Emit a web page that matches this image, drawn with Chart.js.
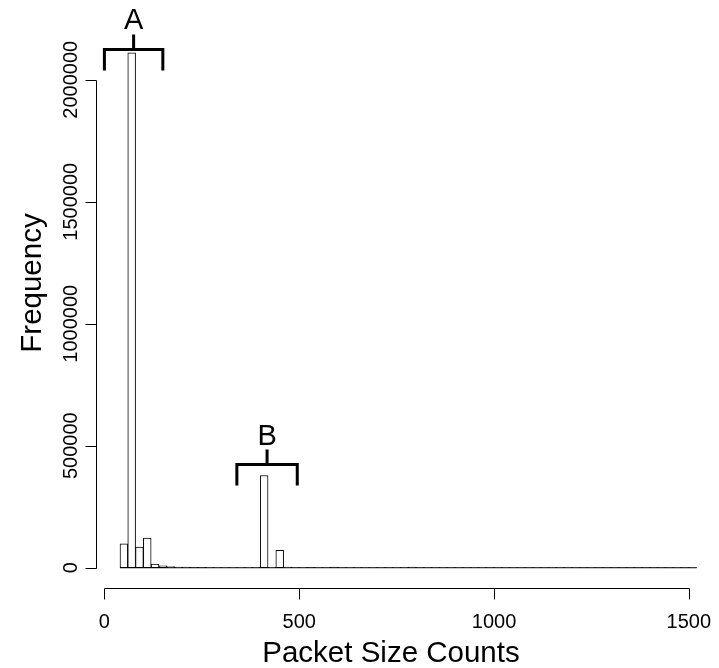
<!DOCTYPE html>
<html><head><meta charset="utf-8">
<script src="https://cdn.jsdelivr.net/npm/chart.js@4/dist/chart.umd.min.js"></script>
<style>html,body{margin:0;padding:0;background:#fff;}#wrap{width:719px;height:668px;}</style>
</head><body><div id="wrap"><canvas id="c" width="719" height="668"></canvas></div>
<script>
// ---- data ----
const binStarts = [40,60,80,100,120,140,160,180,200,220,240,260,280,300,320,340,360,380,400,
  420,440,460,480,500,520,540,560,580,600,620,640,660,680,700,720,740,760,780,800,820,840,860,880,900,
  920,940,960,980,1000,1020,1040,1060,1080,1100,1120,1140,1160,1180,1200,1220,1240,1260,1280,1300,
  1320,1340,1360,1380,1400,1420,1440,1460,1480,1500];
const binWidth = 20;
const frequencies = [98000,2110000,85000,122000,15000,8000,5000,3000,2500,2000,1800,1500,1200,1200,1000,1000,900,1500,378000,
  1500,71000,2500,1500,900,2200,1200,1000,2400,800,700,900,700,600,800,600,700,900,3000,800,600,600,500,600,500,
  500,600,500,500,500,400,500,400,400,500,400,400,400,400,400,300,400,300,300,300,
  300,300,300,300,300,300,300,400,300,500];
const xTicks = [0,500,1000,1500];
const yTicks = [0,500000,1000000,1500000,2000000];
const xTitle = 'Packet Size Counts';
const yTitle = 'Frequency';
const groupLabels = ['A','B'];
const groupFrom = [0,340];
const groupTo = [150,495];
const groupLevel = [2124000,423000];

// ---- styles ----
const FONT = '"Liberation Sans", Arial, Helvetica, sans-serif';

const rAxes = {
  id:'rAxes',
  afterDraw(chart){
    const {ctx, chartArea:a, scales:{x,y}} = chart;
    ctx.save();
    ctx.strokeStyle='#000'; ctx.fillStyle='#000'; ctx.lineWidth=1;
    // x axis
    const yb = Math.round(a.bottom)+0.5;
    ctx.beginPath();
    ctx.moveTo(Math.round(x.getPixelForValue(xTicks[0]))+0.5, yb);
    ctx.lineTo(Math.round(x.getPixelForValue(xTicks[xTicks.length-1]))+0.5, yb);
    xTicks.forEach(v=>{const px=Math.round(x.getPixelForValue(v))+0.5; ctx.moveTo(px,yb); ctx.lineTo(px,yb+11);});
    // y axis
    const xl = Math.round(a.left)-0.5;
    ctx.moveTo(xl, Math.round(y.getPixelForValue(yTicks[0]))+0.5);
    ctx.lineTo(xl, Math.round(y.getPixelForValue(yTicks[yTicks.length-1]))+0.5);
    yTicks.forEach(v=>{const py=Math.round(y.getPixelForValue(v))+0.5; ctx.moveTo(xl,py); ctx.lineTo(xl-11,py);});
    ctx.stroke();
    // tick labels
    ctx.font = '20px ' + FONT;
    ctx.textAlign='center'; ctx.textBaseline='alphabetic';
    xTicks.forEach(v=>ctx.fillText(String(v), x.getPixelForValue(v), 628));
    yTicks.forEach(v=>{
      ctx.save(); ctx.translate(77, y.getPixelForValue(v)); ctx.rotate(-Math.PI/2);
      ctx.fillText(String(v), 0, 0); ctx.restore();
    });
    // titles
    ctx.font = '29.5px ' + FONT;
    ctx.fillText(xTitle, 391, 662);
    ctx.save(); ctx.translate(41, 283); ctx.rotate(-Math.PI/2); ctx.fillText(yTitle, 0, 0); ctx.restore();
    // brackets
    ctx.lineWidth = 3; ctx.lineCap='butt'; ctx.lineJoin='miter';
    ctx.font = '29px ' + FONT;
    groupLabels.forEach((lab,i)=>{
      const x0 = x.getPixelForValue(groupFrom[i]), x1 = x.getPixelForValue(groupTo[i]);
      const yt = y.getPixelForValue(groupLevel[i]);
      const xc = (x0+x1)/2;
      ctx.beginPath();
      ctx.moveTo(x0, yt+21); ctx.lineTo(x0, yt); ctx.lineTo(x1, yt); ctx.lineTo(x1, yt+21);
      ctx.moveTo(xc, yt); ctx.lineTo(xc, yt-15);
      ctx.stroke();
      ctx.fillText(lab, xc, yt-20);
    });
    ctx.restore();
  }
};

new Chart(document.getElementById('c'), {
  type:'bar',
  data:{datasets:[
    {type:'bar', label:'Frequency',
     data: binStarts.map((s,i)=>({x:s+binWidth/2, y:frequencies[i]})),
     backgroundColor:'#ffffff', borderColor:'#000000', borderWidth:1, borderSkipped:false,
     barPercentage:1, categoryPercentage:1, order:2},
    {type:'line', label:'base',
     data:[{x:binStarts[0], y:0},{x:binStarts[binStarts.length-1]+binWidth, y:0}],
     borderColor:'#000000', borderWidth:1, pointRadius:0, order:1}
  ]},
  options:{
    responsive:false, animation:false, devicePixelRatio:1,
    layout:{padding:{left:97,right:0,top:33,bottom:80}},
    plugins:{legend:{display:false}, tooltip:{enabled:false}},
    scales:{
      x:{type:'linear', min:-19, max:1577.5, offset:false, display:false},
      y:{type:'linear', min:-83000, max:2191590, display:false}
    }
  },
  plugins:[rAxes]
});
</script></body></html>
